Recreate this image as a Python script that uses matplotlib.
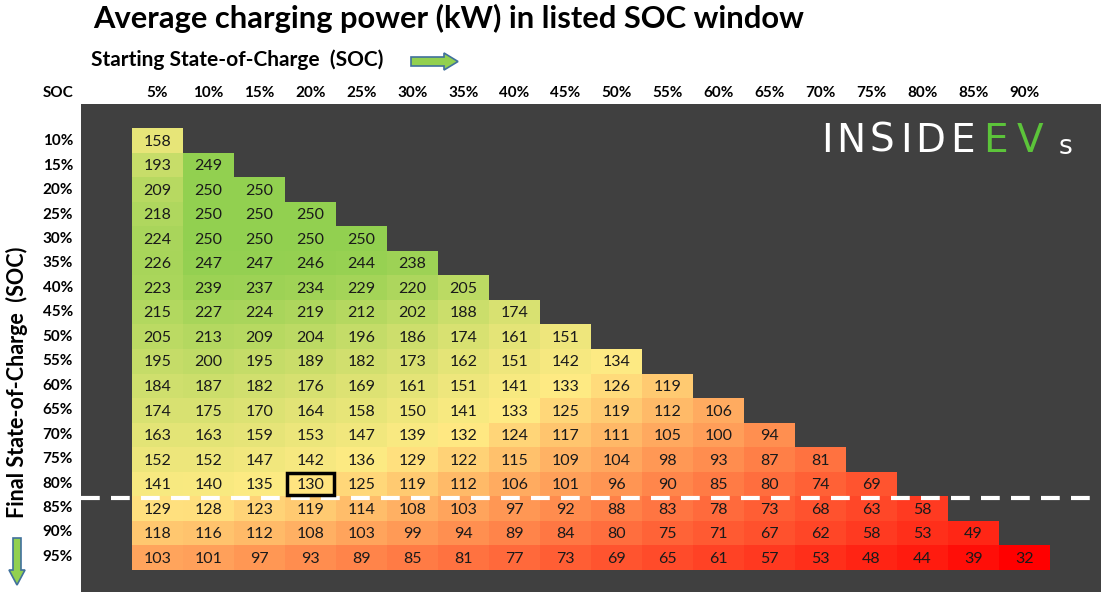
import numpy as np
import matplotlib
matplotlib.use("Agg")
import matplotlib.pyplot as plt
from matplotlib.colors import LinearSegmentedColormap, TwoSlopeNorm
from matplotlib.patches import Rectangle, FancyArrow

plt.rcParams['font.family'] = ['Lato', 'DejaVu Sans']

start_labels = ["5%", "10%", "15%", "20%", "25%", "30%", "35%", "40%", "45%",
                "50%", "55%", "60%", "65%", "70%", "75%", "80%", "85%", "90%"]
final_labels = ["10%", "15%", "20%", "25%", "30%", "35%", "40%", "45%", "50%",
                "55%", "60%", "65%", "70%", "75%", "80%", "85%", "90%", "95%"]

row_10 = [158]
row_15 = [193, 249]
row_20 = [209, 250, 250]
row_25 = [218, 250, 250, 250]
row_30 = [224, 250, 250, 250, 250]
row_35 = [226, 247, 247, 246, 244, 238]
row_40 = [223, 239, 237, 234, 229, 220, 205]
row_45 = [215, 227, 224, 219, 212, 202, 188, 174]
row_50 = [205, 213, 209, 204, 196, 186, 174, 161, 151]
row_55 = [195, 200, 195, 189, 182, 173, 162, 151, 142, 134]
row_60 = [184, 187, 182, 176, 169, 161, 151, 141, 133, 126, 119]
row_65 = [174, 175, 170, 164, 158, 150, 141, 133, 125, 119, 112, 106]
row_70 = [163, 163, 159, 153, 147, 139, 132, 124, 117, 111, 105, 100, 94]
row_75 = [152, 152, 147, 142, 136, 129, 122, 115, 109, 104, 98, 93, 87, 81]
row_80 = [141, 140, 135, 130, 125, 119, 112, 106, 101, 96, 90, 85, 80, 74, 69]
row_85 = [129, 128, 123, 119, 114, 108, 103, 97, 92, 88, 83, 78, 73, 68, 63, 58]
row_90 = [118, 116, 112, 108, 103, 99, 94, 89, 84, 80, 75, 71, 67, 62, 58, 53, 49]
row_95 = [103, 101, 97, 93, 89, 85, 81, 77, 73, 69, 65, 61, 57, 53, 48, 44, 39, 32]

rows = [row_10, row_15, row_20, row_25, row_30, row_35, row_40, row_45, row_50,
        row_55, row_60, row_65, row_70, row_75, row_80, row_85, row_90, row_95]

n = len(final_labels)
grid = np.full((n, len(start_labels)), np.nan)
for i, r in enumerate(rows):
    grid[i, :len(r)] = r
masked = np.ma.masked_invalid(grid)
allvals = np.concatenate([np.array(r, float) for r in rows])

W, H = 1109, 603
fig = plt.figure(figsize=(W / 100, H / 100), dpi=100)
fig.patch.set_facecolor("white")

def fx(px):
    return px / W

def fy(py):
    return 1 - py / H

ax = fig.add_axes([fx(81), fy(592), (1101 - 81) / W, (592 - 104) / H])
ax.set_facecolor("#404040")

cmap = LinearSegmentedColormap.from_list("gyr", ["#FF0000", "#FFEB84", "#92D050"])
norm = TwoSlopeNorm(vmin=allvals.min(), vcenter=np.percentile(allvals, 50), vmax=allvals.max())
ax.imshow(masked, cmap=cmap, norm=norm, aspect="auto", interpolation="nearest")
ax.set_xlim(-1.5, 18.5)
ax.set_ylim(18.4, -1.5)
ax.set_xticks([])
ax.set_yticks([])
for s in ax.spines.values():
    s.set_visible(False)

for i, r in enumerate(rows):
    for j, v in enumerate(r):
        ax.text(j, i + 0.04, str(v), ha="center", va="center", fontsize=11.5, color="#1a1a1a")

# highlighted cell (80% final, 20% start)
hi_r = final_labels.index("80%")
hi_c = start_labels.index("20%")
ax.add_patch(Rectangle((hi_c - 0.5 + 0.03, hi_r - 0.5 + 0.04), 0.94, 0.92, fill=False,
                       edgecolor="black", linewidth=2.5, zorder=7))

# dashed white line between 80% and 85%
ax.plot([-1.5, 18.3], [hi_r + 0.55, hi_r + 0.55], color="white", linewidth=3,
        linestyle=(0, (4.5, 2.7)), zorder=6, clip_on=False)

# tick labels
for j, lab in enumerate(start_labels):
    xpx = 132 + 51 * j + 25.5
    fig.text(fx(xpx), fy(93), lab, ha="center", va="center", fontsize=11, fontweight="bold")
for i, lab in enumerate(final_labels):
    ypx = 129 + 24.45 * i + 12.2
    fig.text(fx(73), fy(ypx), lab, ha="right", va="center", fontsize=11, fontweight="bold")
fig.text(fx(73), fy(93), "SOC", ha="right", va="center", fontsize=11, fontweight="bold")

# titles
fig.text(fx(93), fy(18), "Average charging power (kW) in listed SOC window", ha="left",
         va="center", fontsize=22.2, fontweight="bold")
fig.text(fx(91), fy(60), "Starting State-of-Charge  (SOC)", ha="left", va="center",
         fontsize=15, fontweight="bold")
fig.text(fx(17), fy(382), "Final State-of-Charge  (SOC)", ha="center", va="center",
         fontsize=15.5, fontweight="bold", rotation=90)

# arrows
fig.patches.append(FancyArrow(fx(411), fy(61.5), fx(47), 0, width=9 / H, head_width=17 / H,
                              head_length=fx(14), length_includes_head=True,
                              transform=fig.transFigure, facecolor="#92D050",
                              edgecolor="#41719C", linewidth=1.2))
fig.patches.append(FancyArrow(fx(17), fy(538), 0, -47 / H, width=fx(8), head_width=fx(16),
                              head_length=15 / H, length_includes_head=True,
                              transform=fig.transFigure, facecolor="#92D050",
                              edgecolor="#41719C", linewidth=1.2))

# logo
logo_chars = ["I", "N", "S", "I", "D", "E", "E", "V"]
logo_colors = ["white"] * 6 + ["#5CC43A"] * 2
logo_x = [827, 851, 882, 906, 930, 962, 995, 1030]
for ch, col, xx in zip(logo_chars, logo_colors, logo_x):
    fig.text(fx(xx), fy(141), ch, ha="center", va="center", fontsize=28,
             color=col, fontfamily="DejaVu Sans")
fig.text(fx(1066), fy(147), "s", ha="center", va="center", fontsize=19,
         color="white", fontfamily="DejaVu Sans")

fig.savefig("out.png", dpi=100)
